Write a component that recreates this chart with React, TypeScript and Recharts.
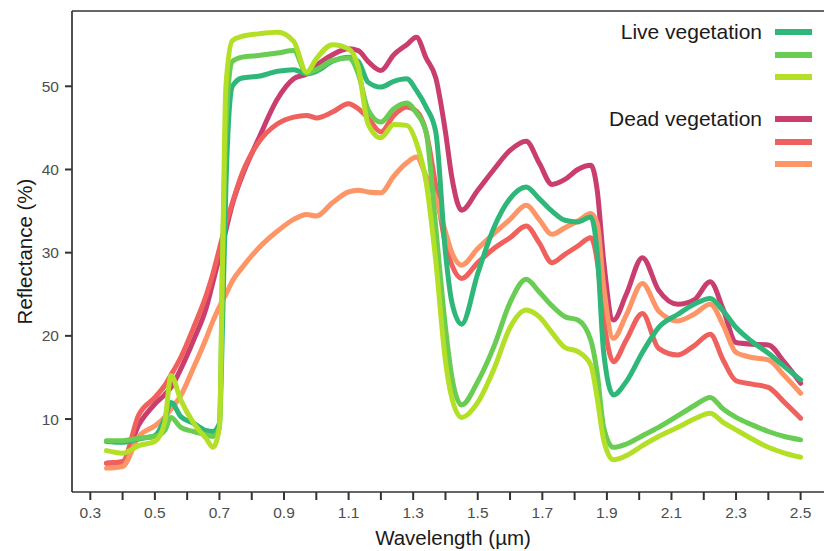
import { LineChart, Line, XAxis, YAxis, ReferenceLine } from "recharts";

const wavelengths = [
  0.35, 0.4, 0.45, 0.5, 0.53, 0.55, 0.58, 0.62, 0.66, 0.68, 0.7, 0.71, 0.72, 0.74, 0.77, 0.82, 0.88, 0.93, 0.97, 1.0,
  1.05, 1.1, 1.13, 1.16, 1.2, 1.24, 1.28, 1.31, 1.34, 1.37, 1.4, 1.42, 1.45, 1.5, 1.55, 1.6, 1.65, 1.69, 1.73, 1.77,
  1.81, 1.85, 1.87, 1.89, 1.92, 1.96, 2.01, 2.06, 2.12, 2.17, 2.22, 2.26, 2.3, 2.35, 2.4, 2.45, 2.5,
];

const live1 = [
  7.3, 7.2, 7.6, 8.0, 10.0, 12.0, 10.3, 9.5, 8.6, 8.5, 9.5, 22, 38, 50.0, 51.0, 51.2, 51.8, 52.0, 51.5, 51.8,
  53.0, 53.5, 53.0, 50.5, 49.9, 50.6, 50.9, 49.5, 47.5, 44.5, 30, 24, 21.4, 27.5, 33.0, 36.5, 37.9, 36.5, 35.0, 33.9,
  33.7, 34.3, 30, 18, 12.9, 14.5, 18.0, 21.0, 22.6, 23.8, 24.5, 23.0, 21.0, 19.3, 17.9, 16.3, 14.7,
];

const live2 = [
  7.4, 7.4, 7.7, 7.9, 8.6, 10.2, 9.0, 8.5, 8.1, 7.9, 9.0, 30, 45, 53.0, 53.5, 53.7, 54.0, 54.3, 51.6, 52.0,
  53.1, 53.4, 51.5, 47.2, 45.7, 47.3, 48.0, 46.8, 44.5, 33, 21, 15, 11.7, 14.5, 18.7, 24.0, 26.8, 25.3, 23.6, 22.3,
  21.9, 19.5, 15.5, 9, 6.6, 7.0, 8.0, 9.0, 10.4, 11.6, 12.6, 11.2, 10.2, 9.3, 8.5, 7.9, 7.5,
];

const live3 = [
  6.2, 5.9, 6.8, 7.3, 9.5, 15.2, 12.3, 9.5, 7.6, 6.6, 9, 30, 50, 55.5, 56.0, 56.3, 56.5, 55.4, 51.7, 53.3,
  55.0, 54.5, 52.3, 45.5, 43.8, 45.4, 45.3, 43.2, 38.5, 29, 17, 12.5, 10.2, 12.0, 16.0, 21.0, 23.1, 22.3, 20.4, 18.6,
  18.1, 16.5, 12.5, 7.5, 5.1, 5.6, 6.8, 7.9, 9.0, 10.0, 10.7, 9.6, 8.7, 7.6, 6.6, 5.9, 5.4,
];

const dead1 = [
  4.7, 4.8, 9.3, 11.8, 12.9, 13.8, 16.0, 19.5, 23.5, 26.5, 29.5, 31.0, 32.7, 35.8, 39.2, 43.6, 48.5, 50.9, 51.5, 52.5,
  53.8, 54.5, 54.3, 53.0, 51.9, 53.8, 55.0, 55.9, 53.4, 51.0, 44.5, 39.0, 35.1, 37.5, 40.0, 42.3, 43.4, 40.8, 38.2, 38.8,
  40.0, 40.5, 37.5, 29, 21.9, 25.0, 29.4, 25.5, 23.8, 24.3, 26.5, 23.2, 19.2, 19.0, 18.9, 16.8, 14.3,
];

const dead2 = [
  4.7, 4.9, 10.5, 12.6, 14.0, 15.3, 17.4, 21.0, 25.0, 27.5, 30.5, 32.0, 33.5, 36.0, 39.5, 43.2, 45.5, 46.3, 46.5, 46.2,
  46.9, 47.9, 47.3, 46.2, 44.5, 46.5, 47.5, 47.0, 44.5, 38, 31, 28.5, 26.9, 28.8, 30.5, 31.8, 33.2, 31.2, 28.8, 29.8,
  30.8, 31.8, 29, 22, 16.9, 19.5, 22.7, 18.5, 17.7, 18.8, 20.2, 17.1, 14.6, 14.2, 13.8, 12.0, 10.1,
];

const dead3 = [
  4.1, 4.3, 7.9, 9.2, 10.2, 11.2, 12.8, 16.2, 19.8, 21.8, 23.5, 24.3, 25.0, 26.6, 28.2, 30.5, 32.6, 34.0, 34.6, 34.4,
  36.0, 37.3, 37.5, 37.3, 37.2, 39.2, 40.8, 41.5, 39.2, 36.5, 32.5, 30.0, 28.5, 30.5, 32.3, 34.0, 35.7, 34.0, 32.2, 33.0,
  33.8, 34.7, 33.5, 26, 19.7, 22.5, 26.3, 23.0, 21.8, 22.6, 23.8, 21.3, 18.0, 17.4, 17.1, 15.2, 13.1,
];

const xTicks = [0.3, 0.4, 0.5, 0.6, 0.7, 0.8, 0.9, 1.0, 1.1, 1.2, 1.3, 1.4, 1.5, 1.6, 1.7, 1.8, 1.9, 2.0, 2.1, 2.2, 2.3, 2.4, 2.5];
const yTicks = [10, 20, 30, 40, 50];

const xDomain = [0.2433, 2.5724];
const yDomain = [1.23, 59.05];

const series = [
  { key: "dead1", color: "#c93e6f" },
  { key: "dead2", color: "#f0605d" },
  { key: "dead3", color: "#fd9566" },
  { key: "live1", color: "#2fb77a" },
  { key: "live2", color: "#69cc53" },
  { key: "live3", color: "#b3df26" },
];

const legendGroups = [
  { label: "Live vegetation", colors: ["#2fb77a", "#69cc53", "#b3df26"] },
  { label: "Dead vegetation", colors: ["#c93e6f", "#f0605d", "#fd9566"] },
];

const data = wavelengths.map((w, i) => ({
  w,
  live1: live1[i],
  live2: live2[i],
  live3: live3[i],
  dead1: dead1[i],
  dead2: dead2[i],
  dead3: dead3[i],
}));

const font = "'Liberation Sans', Arial, sans-serif";
const axisColor = "#333333";

function LegendOverlay() {
  return (
    <div style={{ position: "absolute", left: 0, top: 0, width: 824, height: 551, pointerEvents: "none" }}>
      {legendGroups.map((g, gi) =>
        g.colors.map((c, i) => {
          const cy = 32 + gi * 87 + i * 22.5;
          return (
            <div key={g.label + i}>
              {i === 0 && (
                <div
                  style={{
                    position: "absolute",
                    right: 824 - 762,
                    top: cy - 13,
                    fontFamily: font,
                    fontSize: 21,
                    lineHeight: "26px",
                    color: "#1a1a1a",
                    whiteSpace: "nowrap",
                  }}
                >
                  {g.label}
                </div>
              )}
              <div style={{ position: "absolute", left: 775, top: cy - 3, width: 37, height: 6, background: c }} />
            </div>
          );
        })
      )}
    </div>
  );
}

export default function App() {
  return (
    <div style={{ position: "absolute", left: 0, top: 0, width: 824, height: 551, background: "#fff" }}>
      <LineChart width={824} height={551} data={data} margin={{ top: 11, right: 0, bottom: 0, left: 0 }}>
        <XAxis
          dataKey="w"
          type="number"
          domain={xDomain}
          ticks={xTicks}
          interval={0}
          allowDataOverflow
          height={59}
          tickSize={8}
          tickMargin={7}
          stroke={axisColor}
          strokeWidth={1.7}
          tickLine={{ stroke: axisColor, strokeWidth: 2 }}
          tick={{ fill: "#4d4d4d", fontSize: 15.5, fontFamily: font }}
          tickFormatter={(v: number, i: number) => (i % 2 === 0 ? v.toFixed(1) : "")}
          label={{
            value: "Wavelength (µm)",
            position: "insideBottom",
            offset: 6,
            dx: 5,
            style: { fill: "#1a1a1a", fontSize: 20.5, fontFamily: font },
          }}
        />
        <YAxis
          type="number"
          domain={yDomain}
          ticks={yTicks}
          interval={0}
          allowDataOverflow
          width={72}
          tickSize={7}
          tickMargin={6}
          stroke={axisColor}
          strokeWidth={1.7}
          tickLine={{ stroke: axisColor, strokeWidth: 2 }}
          tick={{ fill: "#4d4d4d", fontSize: 15.5, fontFamily: font }}
          label={{
            value: "Reflectance (%)",
            angle: -90,
            position: "insideLeft",
            offset: 25,
            style: { fill: "#1a1a1a", fontSize: 20.5, fontFamily: font, textAnchor: "middle" },
          }}
        />
        <ReferenceLine y={yDomain[1]} stroke={axisColor} strokeWidth={1.7} />
        {series.map((s) => (
          <Line
            key={s.key}
            dataKey={s.key}
            type="monotone"
            stroke={s.color}
            strokeWidth={5}
            strokeLinejoin="round"
            strokeLinecap="round"
            dot={false}
            activeDot={false}
            isAnimationActive={false}
          />
        ))}
      </LineChart>
      <LegendOverlay />
    </div>
  );
}
